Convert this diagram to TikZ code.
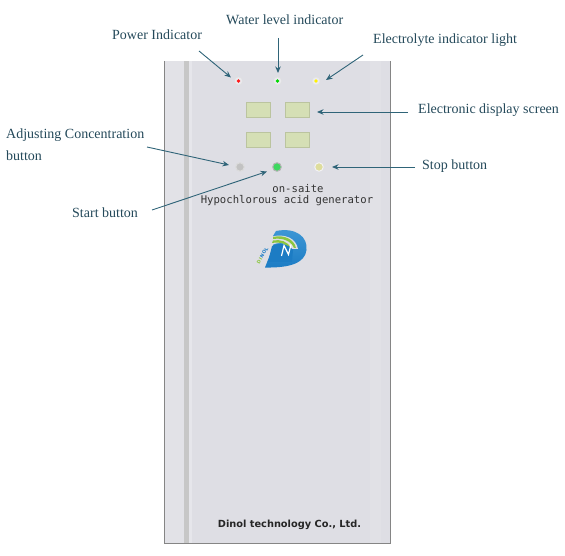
\documentclass[tikz,border=0pt]{standalone}
\usepackage{fontspec}
\setmainfont{Liberation Serif}
\newfontfamily\monof{DejaVu Sans Mono}
\newfontfamily\boldf{DejaVu Sans}
\newfontfamily\logof[LetterSpace=14]{DejaVu Sans}
\usetikzlibrary{arrows.meta}
\definecolor{lbl}{HTML}{24495A}
\definecolor{arr}{HTML}{2F6478}
\definecolor{panel}{HTML}{DEDEE4}
\definecolor{scr}{HTML}{D5DFB5}
\definecolor{logob}{HTML}{1C7CC4}
\definecolor{logol}{HTML}{3F98D6}
\definecolor{stopc}{HTML}{DEDD9C}
\definecolor{startc}{HTML}{3DD85F}
\definecolor{leaf}{HTML}{8CC63F}
\tikzset{
 lab/.style={font=\fontsize{14}{21}\selectfont,text=lbl,inner sep=0pt,anchor=west,align=left},
 conn/.style={draw=arr,line width=0.9pt,-{Stealth[length=6.5pt,width=5.5pt]}},
 screen/.style={draw=scr!88!black,line width=0.4pt,fill=scr,minimum width=24pt,minimum height=15pt,inner sep=0pt},
 halo/.style={circle,fill=white!40!panel,draw=black!12,line width=0.4pt,minimum size=8pt,inner sep=0pt},
 led/.style={circle,minimum size=3.6pt,inner sep=0pt},
 btn/.style={circle,minimum size=8.5pt,inner sep=0pt,draw=#1,line width=1pt},
 ptext/.style={font=\monof\fontsize{10.6}{12}\selectfont,text=black!80,inner sep=0pt},
}
\begin{document}
\begin{tikzpicture}[x=1pt,y=-1pt]
\useasboundingbox (0,0) rectangle (565,556);
% panel
\fill[panel] (164,61) rectangle (391,543);
\fill[panel!88!white] (164,61) rectangle (184,543);
\fill[panel!75!white] (189,61) rectangle (192,543);
\fill[panel!92!white] (370,61) rectangle (381,543);
\fill[black!22] (184,61) rectangle (189,543);
\draw[black!48,line width=1pt] (164.5,61) -- (164.5,543.5) -- (390.5,543.5) -- (390.5,61);
% LEDs
\node[halo] (hr) at (238.5,81) {};
\node[halo] (hg) at (277.5,81) {};
\node[halo] (hy) at (316,81) {};
\node[led,fill=red!90!white] (power) at (238.5,81) {};
\node[led,fill=green!85!black] (water) at (277.5,81) {};
\node[led,fill=yellow] (elec) at (316,81) {};
% screens
\node[screen] (s1) at (258,109.5) {};
\node[screen] (s2) at (297,109.5) {};
\node[screen] (s3) at (258,140) {};
\node[screen] (s4) at (297,140) {};
% buttons
\node[btn=black!14,fill=black!24] (adj) at (240,167) {};
\node[btn=black!30,fill=startc] (start) at (277,167) {};
\node[btn=white!60!panel,fill=stopc] (stop) at (319,167) {};
% panel text
\node[ptext] (t1) at (298,189) {on-saite};
\node[ptext] (t2) at (287,201) {Hypochlorous acid generator};
\node[font=\boldf\bfseries\fontsize{9.8}{11}\selectfont,text=black!85,inner sep=0pt] (t3) at (289.5,524.5) {Dinol technology Co., Ltd.};
% logo
\shade[top color=logol,bottom color=logob] (276,231) .. controls (296,227) and (308,237) .. (306.5,250) .. controls (305,263) and (290,268) .. (265,267.5) -- (273,247) -- (273,236) -- cycle;
\fill[panel] (272,236.5) .. controls (285,233.5) and (296,238) .. (298,249) -- (290,249) .. controls (287,243) and (281,241) .. (272,245) -- cycle;
\fill[leaf] (273,237) .. controls (284,234.5) and (294,239) .. (296,248) -- (294,248) .. controls (291,241) and (283,237.5) .. (273,239) -- cycle;
\fill[leaf] (273,240.5) .. controls (280,239) and (288,241.5) .. (291,248) -- (289,248) .. controls (286,243.5) and (280,241.5) .. (272,243) -- cycle;
\fill[logob] (272,246) .. controls (280,242) and (288,244) .. (293,250) -- (292,262) -- (268,262) -- cycle;
\draw[white,line width=1.2pt,line join=miter] (281.5,256) -- (284,245.5) -- (288.5,254.5) -- (291,244.5);
\node[font=\logof\bfseries\fontsize{4.6}{5}\selectfont,text=logob,inner sep=0pt,rotate=60] (dlogo) at (262.5,255.5) {{\color{leaf}DI}NOL};
% labels
\node[lab] (lpower) at (112,34.8) {Power Indicator};
\node[lab] (lwater) at (226,19.8) {Water level indicator};
\node[lab] (lelec) at (373,40.3) {Electrolyte indicator light};
\node[lab] (ldisp) at (418,110.3) {Electronic display screen};
\node[lab] (ladj1) at (6,135.3) {Adjusting Concentration};
\node[lab] (ladj2) at (6,156) {button};
\node[lab] (lstart) at (72,212.8) {Start button};
\node[lab] (lstop) at (422,166.3) {Stop button};
% connector ends
\coordinate (cp0) at (199,51); \coordinate (cp1) at (231,77.5);
\coordinate (cw0) at (278,38); \coordinate (cw1) at (278,73);
\coordinate (ce0) at (363,55); \coordinate (ce1) at (326,80);
\coordinate (cd0) at (408,112); \coordinate (cd1) at (317,112);
\coordinate (cs0) at (415,167); \coordinate (cs1) at (332,167);
\coordinate (ca0) at (147,147); \coordinate (ca1) at (229,165);
\coordinate (cb0) at (152,210); \coordinate (cb1) at (267,171.5);
\draw[conn] (cp0) -- (cp1);
\draw[conn] (cw0) -- (cw1);
\draw[conn] (ce0) -- (ce1);
\draw[conn] (cd0) -- (cd1);
\draw[conn] (cs0) -- (cs1);
\draw[conn] (ca0) -- (ca1);
\draw[conn] (cb0) -- (cb1);
\end{tikzpicture}
\end{document}
